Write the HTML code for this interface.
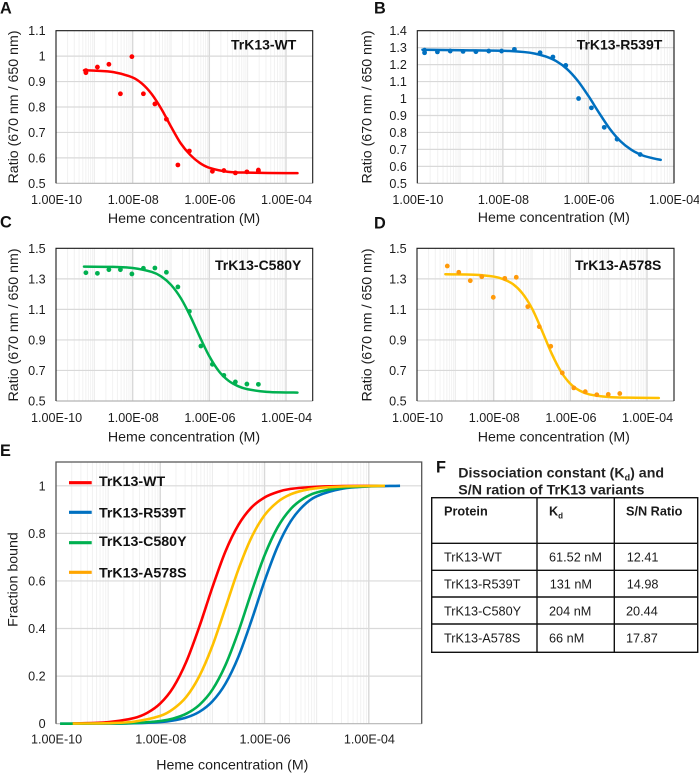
<!DOCTYPE html>
<html lang="en">
<head>
<meta charset="utf-8">
<title>TrK13 heme titration</title>
<style>
html,body{margin:0;padding:0;background:#fff;width:699px;height:773px;overflow:hidden}
svg{display:block;font-family:"Liberation Sans",Arial,sans-serif}
</style>
</head>
<body>
<svg id="fig" xmlns="http://www.w3.org/2000/svg" width="699" height="773" viewBox="0 0 699 773">
  <g id="panel-f" fill="#1a1a1a" font-size="12.7">
    <text x="436" y="472.7" font-size="16.3" font-weight="bold" fill="#111">F</text>
    <text x="458.3" y="477.3" font-size="14.2" font-weight="bold" fill="#222">Dissociation constant (K<tspan font-size="9" dy="3">d</tspan><tspan dy="-3">) and</tspan></text>
    <text x="458.3" y="494.3" font-size="14.2" font-weight="bold" fill="#222">S/N ration of TrK13 variants</text>
    <g stroke="#111" stroke-width="1.4">
      <rect x="431.7" y="497.7" width="266" height="154.6" fill="none"/>
      <line x1="537" x2="537" y1="497.7" y2="652.3"/>
      <line x1="614.3" x2="614.3" y1="497.7" y2="652.3"/>
      <line x1="431.7" x2="697.7" y1="543.3" y2="543.3"/>
      <line x1="431.7" x2="697.7" y1="570.3" y2="570.3"/>
      <line x1="431.7" x2="697.7" y1="597" y2="597"/>
      <line x1="431.7" x2="697.7" y1="624" y2="624"/>
    </g>
    <text x="444" y="515.7" font-weight="bold">Protein</text>
    <text x="549" y="515.7" font-weight="bold">K<tspan font-size="8" dy="3">d</tspan></text>
    <text x="626" y="515.7" font-weight="bold">S/N Ratio</text>
    <text x="444" y="561.7">TrK13-WT</text>
    <text x="549" y="561.7">61.52 nM</text>
    <text x="626.7" y="561.7">12.41</text>
    <text x="444" y="588.7">TrK13-R539T</text>
    <text x="549.7" y="588.7">131 nM</text>
    <text x="626.7" y="588.7">14.98</text>
    <text x="444" y="615.3">TrK13-C580Y</text>
    <text x="549" y="615.3">204 nM</text>
    <text x="626" y="615.3">20.44</text>
    <text x="444" y="642.3">TrK13-A578S</text>
    <text x="549" y="642.3">66 nM</text>
    <text x="626" y="642.3">17.87</text>
  </g>
</svg>
<script>
// ---------- Panel A ----------
const aPointConc = [-9.22,-9.22,-8.92,-8.62,-8.32,-8.02,-7.72,-7.42,-7.12,-6.82,-6.52,-5.92,-5.62,-5.32,-5.02,-4.72,-4.72];
const aPointRatio = [0.935,0.943,0.957,0.968,0.852,0.998,0.852,0.812,0.752,0.572,0.627,0.547,0.55,0.541,0.545,0.547,0.552];
const aFitConc = [-9.27,-9,-8.5,-8,-7.75,-7.5,-7.25,-7,-6.75,-6.5,-6.25,-6,-5.5,-5,-4,-3.7];
const aFitRatio = [0.944,0.943,0.937,0.916,0.891,0.85,0.792,0.723,0.658,0.612,0.58,0.561,0.545,0.542,0.54,0.54];
const aYTicks = [0.5,0.6,0.7,0.8,0.9,1,1.1];
// ---------- Panel B ----------
const bPointConc = [-9.83,-9.83,-9.53,-9.23,-8.93,-8.63,-8.33,-8.03,-7.73,-7.13,-6.83,-6.53,-6.23,-5.93,-5.63,-5.33,-4.79];
const bPointRatio = [1.27,1.285,1.275,1.28,1.278,1.276,1.28,1.28,1.29,1.27,1.245,1.195,1.0,0.945,0.83,0.76,0.67];
const bFitConc = [-9.88,-9,-8,-7.5,-7.25,-7,-6.75,-6.5,-6.25,-6,-5.75,-5.5,-5.25,-5,-4.75,-4.5,-4.31];
const bFitRatio = [1.288,1.285,1.282,1.274,1.265,1.248,1.22,1.174,1.105,1.015,0.915,0.821,0.748,0.698,0.666,0.648,0.638];
const bYTicks = [0.5,0.6,0.7,0.8,0.9,1,1.1,1.2,1.3,1.4];
// ---------- Panel C ----------
const cPointConc = [-9.22,-8.92,-8.62,-8.32,-8.02,-7.72,-7.42,-7.12,-6.82,-6.52,-6.22,-5.92,-5.62,-5.32,-5.02,-4.72];
const cPointRatio = [1.34,1.336,1.36,1.36,1.332,1.369,1.371,1.343,1.247,1.087,0.86,0.74,0.668,0.625,0.611,0.609];
const cFitConc = [-9.27,-8.5,-8,-7.5,-7.25,-7,-6.75,-6.5,-6.25,-6,-5.75,-5.5,-5.25,-5,-4.5,-4,-3.7];
const cFitRatio = [1.38,1.378,1.371,1.345,1.315,1.261,1.176,1.058,0.921,0.793,0.695,0.633,0.597,0.577,0.56,0.556,0.555];
const cYTicks = [0.5,0.7,0.9,1.1,1.3,1.5];
// ---------- Panel D ----------
const dPointConc = [-9.21,-8.91,-8.61,-8.31,-8.01,-7.71,-7.41,-7.11,-6.81,-6.51,-6.21,-5.91,-5.61,-5.31,-5.01,-4.71];
const dPointRatio = [1.384,1.343,1.288,1.314,1.179,1.303,1.31,1.118,0.987,0.858,0.684,0.586,0.561,0.541,0.543,0.549];
const dFitConc = [-9.26,-8.5,-8,-7.75,-7.5,-7.25,-7,-6.75,-6.5,-6.25,-6,-5.75,-5.5,-5,-4.5,-3.69];
const dFitRatio = [1.33,1.327,1.315,1.298,1.266,1.205,1.106,0.967,0.818,0.695,0.613,0.567,0.543,0.526,0.522,0.52];
const dYTicks = [0.5,0.7,0.9,1.1,1.3,1.5];
// ---------- Panel E ----------
const eWtConc = [-9.68,-9,-8.5,-8.25,-8,-7.75,-7.5,-7.25,-7,-6.75,-6.5,-6.25,-6,-5.75,-5.5,-5,-4.5,-3.69];
const eWtBound = [0.001,0.0064,0.024,0.0455,0.085,0.153,0.261,0.408,0.573,0.724,0.836,0.909,0.951,0.974,0.987,0.996,0.999,1];
const eR539tConc = [-9.92,-9,-8.5,-8,-7.75,-7.5,-7.25,-7,-6.75,-6.5,-6.25,-6,-5.75,-5.5,-5.25,-5,-4.5,-4,-3.4];
const eR539tBound = [0,0.0005,0.0019,0.007,0.0136,0.026,0.05,0.094,0.168,0.282,0.434,0.599,0.744,0.85,0.917,0.956,0.988,0.997,1];
const eC580yConc = [-9.92,-9,-8.5,-8,-7.75,-7.5,-7.25,-7,-6.75,-6.5,-6.25,-6,-5.75,-5.5,-5.25,-5,-4.5,-4,-3.69];
const eC580yBound = [0,0.0008,0.003,0.0114,0.022,0.042,0.079,0.143,0.246,0.388,0.553,0.707,0.825,0.902,0.947,0.972,0.992,0.998,1];
const eA578sConc = [-9.68,-9,-8.5,-8,-7.75,-7.5,-7.25,-7,-6.75,-6.5,-6.25,-6,-5.75,-5.5,-5.25,-5,-4.5,-4,-3.69];
const eA578sBound = [0.0004,0.0023,0.0088,0.0327,0.062,0.113,0.2,0.327,0.487,0.649,0.783,0.876,0.932,0.964,0.981,0.99,0.997,0.999,1];
const eYTicks = [0,0.2,0.4,0.6,0.8,1];
const legendLabels = ['TrK13-WT','TrK13-R539T','TrK13-C580Y','TrK13-A578S'];
const xTickExponents = [-10,-8,-6,-4];

const NS = 'http://www.w3.org/2000/svg';
const fig = document.getElementById('fig');

function mk(parent, tag, attrs, text) {
  const el = document.createElementNS(NS, tag);
  for (const k in attrs) el.setAttribute(k, attrs[k]);
  if (text !== undefined) el.textContent = text;
  parent.appendChild(el);
  return el;
}

function smoothPath(px, py) {
  let d = 'M' + px[0].toFixed(2) + ' ' + py[0].toFixed(2);
  for (let i = 0; i < px.length - 1; i++) {
    const p0 = i > 0 ? i - 1 : i, p3 = i + 2 < px.length ? i + 2 : i + 1;
    const h = (px[i + 1] - px[i]) / 3;
    const m1 = (py[i + 1] - py[p0]) / (px[i + 1] - px[p0]);
    const m2 = (py[p3] - py[i]) / (px[p3] - px[i]);
    d += 'C' + (px[i] + h).toFixed(2) + ' ' + (py[i] + m1 * h).toFixed(2) + ' ' +
      (px[i + 1] - h).toFixed(2) + ' ' + (py[i + 1] - m2 * h).toFixed(2) + ' ' +
      px[i + 1].toFixed(2) + ' ' + py[i + 1].toFixed(2);
  }
  return d;
}

function frame(o) {
  const g = mk(fig, 'g', {});
  
  
  const sx = v => o.left + (v + 10) * o.decade;
  const sy = v => o.bottom - (v - o.yMin) / (o.yMax - o.yMin) * (o.bottom - o.top);
  const grid = mk(g, 'g', {});
  
  
  for (let e = -10; e < o.gridEnd; e++) {
    for (let m = 2; m <= 9; m++) {
      const x = sx(e + Math.log10(m));
      const ln = mk(grid, 'line', {x1: x, x2: x, y1: o.top, y2: o.bottom, stroke: '#f2f2f2', 'stroke-width': 1});
      
      
    }
    const x = sx(e + 1);
    const ln = mk(grid, 'line', {x1: x, x2: x, y1: o.top, y2: o.bottom, stroke: (e + 1) % 2 === 0 ? '#d9d9d9' : '#ebebeb', 'stroke-width': (e + 1) % 2 === 0 ? 1.4 : 1});
    
    
  }
  o.yTicks.forEach(v => {
    if (v !== o.yMin && v !== o.yMax) {
      const ln = mk(grid, 'line', {x1: o.left, x2: o.right, y1: sy(v), y2: sy(v), stroke: '#d9d9d9', 'stroke-width': 1.2});
      
      
    }
    const t = mk(g, 'text', {x: o.left - 10.4, y: sy(v) + 4.5, 'text-anchor': 'end', 'font-size': 12.6, fill: '#1c1c1c'}, String(v));
    
    
  });
  xTickExponents.forEach(e => {
    const t = mk(g, 'text', {x: sx(e) + 0.6, y: o.bottom + o.xLabelGap, 'text-anchor': 'middle', 'font-size': 12.6, fill: '#1c1c1c'}, '1.00E' + (e < 0 ? '-' : '+') + String(Math.abs(e)).padStart(2, '0'));
    
    
  });
  const bottomAxis = mk(g, 'line', {x1: o.left, x2: o.right, y1: o.bottom, y2: o.bottom, stroke: '#b5b5b5', 'stroke-width': 1.2});
  
  
  const border = mk(g, 'path', {d: 'M' + o.left + ' ' + o.bottom + 'V' + o.top + 'H' + o.right + 'V' + o.bottom, fill: 'none', stroke: o.borderColor, 'stroke-width': o.borderWidth});
  
  
  const yt = mk(g, 'text', {transform: 'translate(' + o.yTitleX + ' ' + o.yTitleY + ') rotate(-90)', 'text-anchor': 'middle', 'font-size': 14.2, fill: '#1c1c1c'}, o.yTitle);
  
  
  const xt = mk(g, 'text', {x: o.xTitleX, y: o.xTitleY, 'text-anchor': 'middle', 'font-size': 14.2, fill: '#1c1c1c'}, 'Heme concentration (M)');
  
  
  const letter = mk(g, 'text', {x: o.letterX, y: o.letterY, 'font-size': 16.3, 'font-weight': 'bold', fill: '#111'}, o.letter);
  
  
  return {g, sx, sy};
}

function fitPanel(o, pc, pr, fc, fr) {
  const f = frame(o);
  const line = mk(f.g, 'path', {d: smoothPath(fc.map(f.sx), fr.map(f.sy)), fill: 'none', stroke: o.lineColor, 'stroke-width': 2.5, 'stroke-linecap': 'round'});
  
  
  pc.forEach((c, i) => {
    const pt = mk(f.g, 'circle', {cx: f.sx(c), cy: f.sy(pr[i]), r: 2.4, fill: o.pointColor});
    
    
  });
  const lbl = mk(f.g, 'text', {x: o.labelX, y: o.labelY, 'font-size': 14, 'font-weight': 'bold', fill: '#111'}, o.label);
  
  
}

const RATIO = 'Ratio (670 nm / 650 nm)';
fitPanel({name: 'panel-a-wt', letter: 'A', letterX: 0, letterY: 13.3, left: 56, right: 312.7, top: 30.7, bottom: 183.3, decade: 38.33, gridEnd: -4, yMin: 0.5, yMax: 1.1, yTicks: aYTicks, xLabelGap: 20.8, borderColor: '#1a1a1a', borderWidth: 1.1, yTitle: RATIO, yTitleX: 18, yTitleY: 107, xTitleX: 184, xTitleY: 223, lineColor: '#ff0000', pointColor: '#ff0000', label: 'TrK13-WT', labelX: 231, labelY: 49.7}, aPointConc, aPointRatio, aFitConc, aFitRatio);
fitPanel({name: 'panel-b-r539t', letter: 'B', letterX: 374, letterY: 13.3, left: 417.3, right: 674, top: 30.7, bottom: 183.3, decade: 42.78, gridEnd: -4, yMin: 0.5, yMax: 1.4, yTicks: bYTicks, xLabelGap: 20.8, borderColor: '#1a1a1a', borderWidth: 1.1, yTitle: RATIO, yTitleX: 371.5, yTitleY: 107, xTitleX: 553.8, xTitleY: 222, lineColor: '#0070c0', pointColor: '#0070c0', label: 'TrK13-R539T', labelX: 576.7, labelY: 49.3}, bPointConc, bPointRatio, bFitConc, bFitRatio);
fitPanel({name: 'panel-c-c580y', letter: 'C', letterX: 0, letterY: 227.7, left: 56, right: 312.7, top: 248.3, bottom: 401, decade: 38.33, gridEnd: -4, yMin: 0.5, yMax: 1.5, yTicks: cYTicks, xLabelGap: 20.8, borderColor: '#1a1a1a', borderWidth: 1.1, yTitle: RATIO, yTitleX: 18, yTitleY: 325, xTitleX: 184, xTitleY: 441.7, lineColor: '#00b050', pointColor: '#00b050', label: 'TrK13-C580Y', labelX: 215, labelY: 270}, cPointConc, cPointRatio, cFitConc, cFitRatio);
fitPanel({name: 'panel-d-a578s', letter: 'D', letterX: 374, letterY: 228.3, left: 417, right: 674, top: 248.3, bottom: 401, decade: 38.33, gridEnd: -4, yMin: 0.5, yMax: 1.5, yTicks: dYTicks, xLabelGap: 20.8, borderColor: '#1a1a1a', borderWidth: 1.1, yTitle: RATIO, yTitleX: 371.5, yTitleY: 325, xTitleX: 553.8, xTitleY: 441.7, lineColor: '#ffc000', pointColor: '#ff9a0a', label: 'TrK13-A578S', labelX: 575, labelY: 270}, dPointConc, dPointRatio, dFitConc, dFitRatio);

const e = frame({name: 'panel-e-fraction-bound', letter: 'E', letterX: 0, letterY: 456, left: 56, right: 421.7, top: 462, bottom: 723.7, decade: 52.13, gridEnd: -4, yMin: 0, yMax: 1.1, yTicks: eYTicks, xLabelGap: 19.6, borderColor: '#555', borderWidth: 1.3, yTitle: 'Fraction bound', yTitleX: 17.6, yTitleY: 579.5, xTitleX: 232.3, xTitleY: 769.3});
const eCurves = [[eR539tConc, eR539tBound, '#0070c0', 'curve-r539t'], [eWtConc, eWtBound, '#ff0000', 'curve-wt'], [eC580yConc, eC580yBound, '#00b050', 'curve-c580y'], [eA578sConc, eA578sBound, '#ffc000', 'curve-a578s']];
eCurves.forEach(c => {
  const p = mk(e.g, 'path', {d: smoothPath(c[0].map(e.sx), c[1].map(e.sy)), fill: 'none', stroke: c[2], 'stroke-width': 2.6});
  
  
});
const legendColors = ['#ff0000', '#0070c0', '#00b050', '#ffa500'];
const legendSwatchY = [482.7, 512.3, 542.7, 572.3];
const legendTextY = [486, 517.3, 546, 577.3];
legendLabels.forEach((lab, i) => {
  const y = legendSwatchY[i];
  const sw = mk(e.g, 'line', {x1: 69, x2: 91.7, y1: y, y2: y, stroke: legendColors[i], 'stroke-width': 3.2});
  
  
  const t = mk(e.g, 'text', {x: 99, y: legendTextY[i], 'font-size': 14.2, 'font-weight': 'bold', fill: '#111'}, lab);
  
  
});
</script>
</body>
</html>
